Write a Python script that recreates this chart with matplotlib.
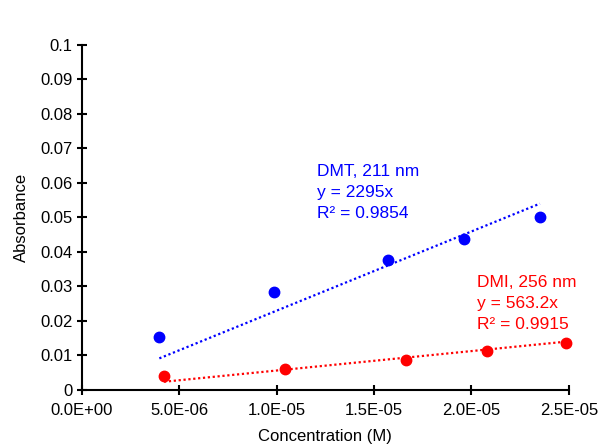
import matplotlib
matplotlib.use("Agg")
import matplotlib.pyplot as plt
import numpy as np

plt.rcParams['font.family'] = ['Liberation Sans', 'DejaVu Sans']

# Data
dmt_conc = [3.99e-6, 9.87e-6, 1.573e-5, 1.962e-5, 2.351e-5]
dmt_abs = [0.0154, 0.0285, 0.0377, 0.0437, 0.0500]
dmi_conc = [4.23e-6, 1.044e-5, 1.663e-5, 2.078e-5, 2.485e-5]
dmi_abs = [0.0041, 0.0060, 0.0087, 0.0113, 0.0135]
dmt_slope = 2295
dmi_slope = 563.2
x_ticks = [0, 5e-6, 1e-5, 1.5e-5, 2e-5, 2.5e-5]
x_ticklabels = ["0.0E+00", "5.0E-06", "1.0E-05", "1.5E-05", "2.0E-05", "2.5E-05"]
y_ticks = [0, 0.01, 0.02, 0.03, 0.04, 0.05, 0.06, 0.07, 0.08, 0.09, 0.1]
y_ticklabels = ["0", "0.01", "0.02", "0.03", "0.04", "0.05", "0.06", "0.07", "0.08", "0.09", "0.1"]

blue = "#0000FF"
red = "#FF0000"

fig = plt.figure(figsize=(6.04, 4.46), dpi=100)
ax = fig.add_axes([0.135, 0.1256, 0.807, 0.7744])

# trendlines through origin
for conc, slope, c in [(dmt_conc, dmt_slope, blue), (dmi_conc, dmi_slope, red)]:
    xs = np.array([min(conc), max(conc)])
    ax.plot(xs, slope * xs, linestyle=(0, (1, 1.2)), color=c, linewidth=1.6, zorder=2)

ax.plot(dmt_conc, dmt_abs, 'o', color=blue, markersize=7.5, zorder=3, clip_on=False)
ax.plot(dmi_conc, dmi_abs, 'o', color=red, markersize=7.5, zorder=3, clip_on=False)

ax.set_xlim(0, 2.5e-5)
ax.set_ylim(0, 0.1)
ax.set_xticks(x_ticks)
ax.set_xticklabels(x_ticklabels)
ax.set_yticks(y_ticks)
ax.set_yticklabels(y_ticklabels)

for s in ['top', 'right']:
    ax.spines[s].set_visible(False)
for s in ['left', 'bottom']:
    ax.spines[s].set_linewidth(1.5)
ax.tick_params(direction='inout', length=7, width=1.5, labelsize=12, pad=3)
ax.tick_params(axis='x', pad=6)

ax.set_xlabel("Concentration (M)", fontsize=12, labelpad=8)
ax.set_ylabel("Absorbance", fontsize=12, labelpad=8)

ax.text(1.206e-5, 0.0655, "DMT, 211 nm\ny = 2295x\nR² = 0.9854", color=blue,
        fontsize=12.5, va='top', ha='left', linespacing=1.52)
ax.text(2.03e-5, 0.0333, "DMI, 256 nm\ny = 563.2x\nR² = 0.9915", color=red,
        fontsize=12.5, va='top', ha='left', linespacing=1.52)

fig.savefig("out.png", dpi=100)
